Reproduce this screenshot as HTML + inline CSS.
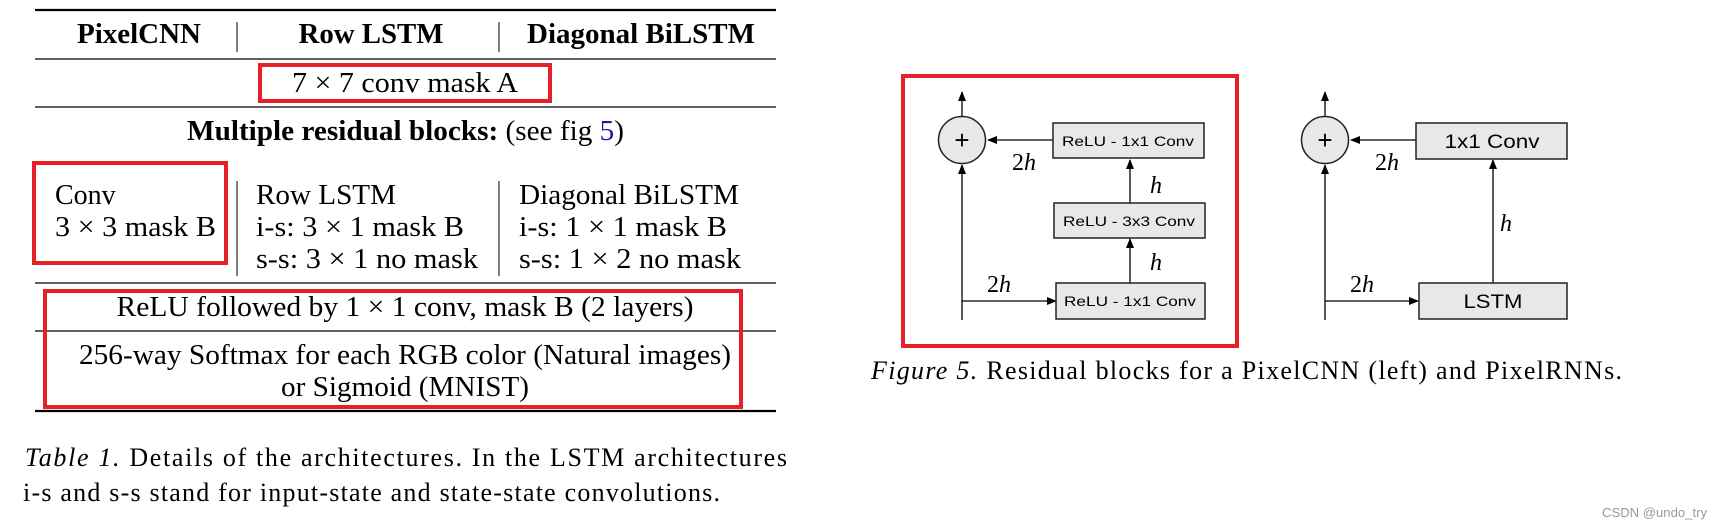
<!DOCTYPE html>
<html><head><meta charset="utf-8"><style>
html,body{margin:0;padding:0;background:#fff;}
svg{display:block;}
.s{font-family:"Liberation Serif",serif;}
.a{font-family:"Liberation Sans",sans-serif;}
</style></head><body>
<svg width="1721" height="527" viewBox="0 0 1721 527" xmlns="http://www.w3.org/2000/svg">
<defs>
<marker id="ah" markerWidth="10" markerHeight="10" refX="9" refY="4" orient="auto" markerUnits="userSpaceOnUse">
<path d="M0,0 L10,4 L0,8 Z" fill="#000"/></marker>
</defs>
<!-- TABLE -->
<g class="s" fill="#000">
<line x1="35" y1="10" x2="776" y2="10" stroke="#000" stroke-width="2.2"/>
<text x="139" y="43" font-size="28" font-weight="bold" text-anchor="middle" textLength="124" lengthAdjust="spacingAndGlyphs">PixelCNN</text>
<text x="371" y="43" font-size="28" font-weight="bold" text-anchor="middle" textLength="145" lengthAdjust="spacingAndGlyphs">Row LSTM</text>
<text x="641" y="43" font-size="28" font-weight="bold" text-anchor="middle" textLength="228" lengthAdjust="spacingAndGlyphs">Diagonal BiLSTM</text>
<line x1="237" y1="22" x2="237" y2="52" stroke="#000" stroke-width="1"/>
<line x1="499" y1="22" x2="499" y2="52" stroke="#000" stroke-width="1"/>
<line x1="35" y1="59" x2="776" y2="59" stroke="#000" stroke-width="1.3"/>
<text x="405" y="92" font-size="28" text-anchor="middle" textLength="226" lengthAdjust="spacingAndGlyphs">7 × 7 conv mask A</text>
<line x1="35" y1="107" x2="776" y2="107" stroke="#000" stroke-width="1.3"/>
<text x="187" y="140" font-size="28" textLength="437" lengthAdjust="spacingAndGlyphs"><tspan font-weight="bold">Multiple residual blocks:</tspan> (see fig <tspan fill="#1a1a9a">5</tspan>)</text>
<text x="55" y="204" font-size="28">Conv</text>
<text x="55" y="236" font-size="28" textLength="161" lengthAdjust="spacingAndGlyphs">3 × 3 mask B</text>
<text x="256" y="204" font-size="28" textLength="140" lengthAdjust="spacingAndGlyphs">Row LSTM</text>
<text x="256" y="236" font-size="28" textLength="208" lengthAdjust="spacingAndGlyphs">i-s: 3 × 1 mask B</text>
<text x="256" y="268" font-size="28" textLength="222" lengthAdjust="spacingAndGlyphs">s-s: 3 × 1 no mask</text>
<text x="519" y="204" font-size="28" textLength="220" lengthAdjust="spacingAndGlyphs">Diagonal BiLSTM</text>
<text x="519" y="236" font-size="28" textLength="208" lengthAdjust="spacingAndGlyphs">i-s: 1 × 1 mask B</text>
<text x="519" y="268" font-size="28" textLength="222" lengthAdjust="spacingAndGlyphs">s-s: 1 × 2 no mask</text>
<line x1="237" y1="181" x2="237" y2="276" stroke="#000" stroke-width="1"/>
<line x1="499" y1="181" x2="499" y2="276" stroke="#000" stroke-width="1"/>
<line x1="35" y1="283" x2="776" y2="283" stroke="#000" stroke-width="1.3"/>
<text x="405" y="316" font-size="28" text-anchor="middle" textLength="577" lengthAdjust="spacingAndGlyphs">ReLU followed by 1 × 1 conv, mask B (2 layers)</text>
<line x1="35" y1="331" x2="776" y2="331" stroke="#000" stroke-width="1.3"/>
<text x="405" y="364" font-size="28" text-anchor="middle" textLength="652" lengthAdjust="spacingAndGlyphs">256-way Softmax for each RGB color (Natural images)</text>
<text x="405" y="396" font-size="28" text-anchor="middle" textLength="248" lengthAdjust="spacingAndGlyphs">or Sigmoid (MNIST)</text>
<line x1="35" y1="411" x2="776" y2="411" stroke="#000" stroke-width="2.2"/>
<text x="25" y="466" font-size="26" textLength="762" lengthAdjust="spacing"><tspan font-style="italic">Table 1.</tspan> Details of the architectures.  In the LSTM architectures</text>
<text x="23" y="501" font-size="26" textLength="697" lengthAdjust="spacing">i-s and s-s stand for input-state and state-state convolutions.</text>
</g>
<!-- red boxes -->
<g fill="none" stroke="#e8202a" stroke-width="4">
<rect x="260" y="65" width="290" height="36"/>
<rect x="34" y="163" width="192" height="100"/>
<rect x="45" y="291" width="696" height="116"/>
<rect x="903" y="76" width="334" height="270"/>
</g>
<!-- FIGURE left -->
<g stroke="#000" stroke-width="1.3" fill="none">
<line x1="962" y1="116" x2="962" y2="92" marker-end="url(#ah)"/>
<line x1="962" y1="320" x2="962" y2="165" marker-end="url(#ah)"/>
<line x1="1053" y1="140" x2="988" y2="140" marker-end="url(#ah)"/>
<line x1="962" y1="301" x2="1056" y2="301" marker-end="url(#ah)"/>
<line x1="1130" y1="283" x2="1130" y2="239" marker-end="url(#ah)"/>
<line x1="1130" y1="203" x2="1130" y2="160" marker-end="url(#ah)"/>
<line x1="1325" y1="116" x2="1325" y2="92" marker-end="url(#ah)"/>
<line x1="1325" y1="320" x2="1325" y2="165" marker-end="url(#ah)"/>
<line x1="1416" y1="140" x2="1351" y2="140" marker-end="url(#ah)"/>
<line x1="1325" y1="301" x2="1418" y2="301" marker-end="url(#ah)"/>
<line x1="1493" y1="283" x2="1493" y2="160" marker-end="url(#ah)"/>
</g>
<g stroke="#222" stroke-width="1.5" fill="#e8e8e8">
<circle cx="962" cy="140" r="23.5"/>
<circle cx="1325" cy="140" r="23.5"/>
<rect x="1053" y="123" width="151" height="35"/>
<rect x="1054" y="203" width="151" height="35"/>
<rect x="1056" y="283" width="149" height="36"/>
<rect x="1416" y="123" width="151" height="36"/>
<rect x="1419" y="283" width="148" height="36"/>
</g>
<g class="a" fill="#000" text-anchor="middle">
<text x="962" y="149" font-size="26">+</text>
<text x="1325" y="149" font-size="26">+</text>
<text x="1128" y="146" font-size="14" textLength="132" lengthAdjust="spacingAndGlyphs">ReLU - 1x1 Conv</text>
<text x="1129" y="226" font-size="14" textLength="132" lengthAdjust="spacingAndGlyphs">ReLU - 3x3 Conv</text>
<text x="1130" y="306" font-size="14" textLength="132" lengthAdjust="spacingAndGlyphs">ReLU - 1x1 Conv</text>
<text x="1492" y="148" font-size="19" textLength="95" lengthAdjust="spacingAndGlyphs">1x1 Conv</text>
<text x="1493" y="308" font-size="19" textLength="59" lengthAdjust="spacingAndGlyphs">LSTM</text>
</g>
<g class="s" fill="#000" font-size="24">
<text x="1012" y="170">2<tspan font-style="italic">h</tspan></text>
<text x="1375" y="170">2<tspan font-style="italic">h</tspan></text>
<text x="987" y="292">2<tspan font-style="italic">h</tspan></text>
<text x="1350" y="292">2<tspan font-style="italic">h</tspan></text>
<text x="1150" y="193" font-style="italic">h</text>
<text x="1150" y="270" font-style="italic">h</text>
<text x="1500" y="231" font-style="italic">h</text>
<text x="871" y="379" font-size="26" textLength="751" lengthAdjust="spacing"><tspan font-style="italic">Figure 5.</tspan> Residual blocks for a PixelCNN (left) and PixelRNNs.</text>
</g>
<text x="1602" y="517" font-family="Liberation Sans, sans-serif" font-size="13" fill="#999" textLength="105" lengthAdjust="spacingAndGlyphs">CSDN @undo_try</text>
</svg>
</body></html>
